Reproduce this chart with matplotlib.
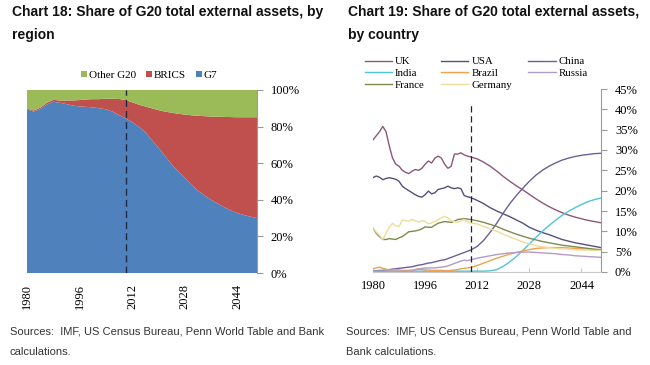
import matplotlib.pyplot as plt
from matplotlib.ticker import FuncFormatter

# Chart 18: share of G20 total external assets by region (%)
years_l = list(range(1980, 2051, 2))
g7 = [89.4, 88.2, 89.5, 92.0, 93.6, 93.0, 92.3, 91.5, 91.0, 90.8, 90.5, 90.0,
      89.5, 88.2, 86.3, 84.5, 82.5, 80.0, 77.0, 72.7, 68.5, 64.0, 59.5, 55.5,
      52.0, 48.3, 45.0, 42.5, 40.0, 38.0, 36.0, 34.2, 32.8, 31.7, 30.8, 30.0]
brics = [0.5, 0.6, 0.8, 1.0, 1.0, 1.3, 2.0, 2.8, 3.5, 4.0, 4.5, 5.0,
         5.8, 7.0, 8.8, 10.0, 10.8, 12.0, 14.0, 17.3, 20.5, 24.2, 28.1, 31.5,
         34.6, 37.9, 40.9, 43.2, 45.5, 47.4, 49.3, 51.0, 52.3, 53.4, 54.3, 55.1]
other_g20 = [10.1, 11.2, 9.7, 7.0, 5.4, 5.7, 5.7, 5.7, 5.5, 5.2, 5.0, 5.0,
             4.7, 4.8, 4.9, 5.5, 6.7, 8.0, 9.0, 10.0, 11.0, 11.8, 12.4, 13.0,
             13.4, 13.8, 14.1, 14.3, 14.5, 14.6, 14.7, 14.8, 14.9, 14.9, 14.9, 14.9]

# Chart 19: share by country (%)
years_r = list(range(1980, 2011)) + list(range(2012, 2051, 2))
uk = [32.5, 33.5, 34.5, 35.8, 34.5, 31.0, 28.0, 26.5, 26.0, 25.0, 24.5, 24.2, 24.8,
      25.2, 25.0, 25.5, 26.5, 27.3, 26.8, 28.0, 28.5, 28.0, 26.5, 25.5, 26.0, 29.0,
      29.0, 29.3, 28.8, 28.5, 28.3,
      27.8, 27.0, 26.0, 24.8, 23.5, 22.3, 21.2, 20.2, 19.1, 18.0, 17.0, 16.1, 15.3,
      14.6, 14.0, 13.5, 13.1, 12.7, 12.4, 12.1]
usa = [23.2, 23.6, 23.3, 22.7, 23.0, 23.2, 23.0, 22.8, 22.3, 21.1, 20.5, 20.0, 19.5,
       19.0, 18.6, 18.4, 19.0, 19.9, 19.2, 19.5, 20.3, 20.5, 20.7, 21.1, 20.7, 20.5,
       20.7, 20.5, 18.8, 18.5, 18.3,
       17.6, 16.8, 15.8, 15.0, 14.3, 13.6, 12.8, 12.0, 11.0, 10.3, 9.7, 9.2, 8.6,
       8.0, 7.6, 7.2, 6.9, 6.6, 6.3, 6.0]
china = [0.3, 0.3, 0.4, 0.4, 0.5, 0.6, 0.7, 0.8, 0.9, 1.0, 1.1, 1.2, 1.3, 1.5, 1.7,
         1.8, 2.0, 2.2, 2.3, 2.5, 2.7, 2.9, 3.0, 3.3, 3.6, 3.9, 4.2, 4.5, 4.8, 5.1, 5.4,
         6.3, 7.8, 9.8, 12.0, 14.5, 16.8, 18.8, 20.6, 22.3, 23.8, 25.0, 26.0, 26.8,
         27.5, 28.0, 28.4, 28.7, 28.9, 29.1, 29.2]
india = [0.2, 0.2, 0.2, 0.2, 0.2, 0.2, 0.2, 0.2, 0.2, 0.2, 0.2, 0.2, 0.2, 0.2, 0.2,
         0.2, 0.2, 0.2, 0.2, 0.2, 0.2, 0.2, 0.2, 0.2, 0.2, 0.2, 0.2, 0.2, 0.2, 0.2, 0.2,
         0.2, 0.2, 0.3, 0.6, 1.4, 2.5, 3.8, 5.3, 6.9, 8.5, 10.0, 11.4, 12.7, 13.9,
         14.9, 15.8, 16.6, 17.3, 17.8, 18.2]
brazil = [0.8, 1.0, 1.2, 0.9, 0.7, 0.5, 0.5, 0.6, 0.5, 0.4, 0.4, 0.4, 0.5, 0.6, 0.8,
          0.6, 0.5, 0.5, 0.4, 0.4, 0.4, 0.4, 0.3, 0.3, 0.4, 0.5, 0.6, 0.8, 0.9, 1.0, 1.1,
          1.6, 2.2, 2.8, 3.4, 3.9, 4.4, 4.8, 5.2, 5.5, 5.8, 5.9, 6.0, 6.0, 6.0, 5.9,
          5.8, 5.7, 5.6, 5.5, 5.4]
russia = [0.2, 0.2, 0.2, 0.2, 0.2, 0.2, 0.2, 0.2, 0.2, 0.2, 0.2, 0.2, 0.2, 0.5, 0.7,
          0.9, 1.0, 1.0, 1.0, 1.0, 1.1, 1.2, 1.3, 1.5, 1.8, 2.1, 2.4, 2.7, 2.9, 2.8, 3.0,
          3.4, 3.7, 4.0, 4.3, 4.5, 4.7, 4.8, 4.9, 4.9, 4.8, 4.7, 4.6, 4.5, 4.3, 4.2,
          4.0, 3.9, 3.8, 3.7, 3.6]
france = [10.8, 9.5, 8.7, 8.0, 8.0, 8.2, 8.1, 8.0, 8.4, 8.7, 9.3, 9.9, 10.0, 10.1,
          10.3, 10.6, 11.1, 11.0, 11.0, 11.5, 12.0, 12.2, 12.4, 12.3, 12.2, 12.5, 12.9,
          13.0, 13.1, 13.0, 12.9,
          12.6, 12.2, 11.7, 11.2, 10.5, 9.9, 9.3, 8.8, 8.3, 7.9, 7.5, 7.2, 6.9, 6.6,
          6.4, 6.2, 6.0, 5.8, 5.6, 5.5]
germany = [10.8, 9.8, 9.0, 8.0, 9.5, 11.0, 12.0, 11.3, 11.2, 12.8, 12.6, 12.5, 12.9,
           12.6, 12.3, 12.6, 12.5, 11.8, 12.1, 12.4, 12.9, 13.3, 13.7, 13.3, 12.6, 12.4,
           12.2, 12.6, 12.9, 12.4, 12.1,
           11.8, 11.2, 10.6, 10.0, 9.3, 8.6, 8.0, 7.4, 6.9, 6.5, 6.2, 6.0, 5.8, 5.7,
           5.6, 5.5, 5.4, 5.4, 5.3, 5.3]

xticks = [1980, 1996, 2012, 2028, 2044]
serif = "Liberation Serif"
sans = "Liberation Sans"
pct = FuncFormatter(lambda v, _: f"{v:.0f}%")

fig = plt.figure(figsize=(6.5, 3.65), dpi=100)

# ---- left: stacked area
ax1 = fig.add_axes([27 / 650, 1 - 273 / 365, 230 / 650, 183 / 365])
ax1.stackplot(years_l, g7, brics, other_g20,
              colors=["#4F81BD", "#C0504D", "#9BBB59"],
              labels=["G7", "BRICS", "Other G20"], linewidth=0)
ax1.axvline(2010, color="#1F2A44", lw=1.0, ls=(0, (5, 3)))
ax1.set_xlim(1980, 2050)
ax1.set_ylim(0, 100)
ax1.set_yticks(range(0, 101, 20))
ax1.yaxis.set_major_formatter(pct)
ax1.yaxis.tick_right()
ax1.set_xticks(xticks)
ax1.set_xticklabels([str(y) for y in xticks], rotation=90, family=serif, fontsize=9)
for s in ["top", "left", "bottom"]:
    ax1.spines[s].set_visible(False)
ax1.spines["right"].set_color("#9A9A9A")
ax1.tick_params(axis="y", direction="out", length=4, color="#9A9A9A", labelsize=9, pad=6)
ax1.tick_params(axis="x", length=0, pad=8)
for t in ax1.get_yticklabels():
    t.set_family(serif)
h, l = ax1.get_legend_handles_labels()
ax1.legend(h[::-1], l[::-1], loc="lower center", bbox_to_anchor=(0.53, 1.03), ncol=3,
           frameon=False, prop={"family": serif, "size": 8}, handlelength=0.55,
           handleheight=0.55, handletextpad=0.15, columnspacing=0.9, borderaxespad=0)

# ---- right: lines
ax2 = fig.add_axes([373 / 650, 1 - 272 / 365, 228 / 650, 183 / 365])
series = [("UK", uk, "#8B5878"), ("USA", usa, "#55507A"), ("China", china, "#6C5F96"),
          ("India", india, "#4FC4D6"), ("Brazil", brazil, "#EFA24E"),
          ("Russia", russia, "#B49AC8"), ("France", france, "#7E8A4E"),
          ("Germany", germany, "#EEDC9A")]
handles = {}
for name, vals, c in series:
    handles[name] = ax2.plot(years_r, vals, color=c, lw=1.0, label=name)[0]
ax2.axvline(2010, ymax=41.5 / 45, color="#222222", lw=0.9, ls=(0, (5, 3)))
ax2.set_xlim(1980, 2050)
ax2.set_ylim(0, 45)
ax2.set_yticks(range(0, 46, 5))
ax2.yaxis.set_major_formatter(pct)
ax2.yaxis.tick_right()
ax2.set_xticks(xticks)
ax2.set_xticklabels([str(y) for y in xticks], family=serif, fontsize=9)
for s in ["top", "left"]:
    ax2.spines[s].set_visible(False)
ax2.spines["right"].set_color("#9A9A9A")
ax2.spines["bottom"].set_color("#C8C8C8")
ax2.tick_params(axis="y", direction="out", length=4, color="#9A9A9A", labelsize=9, pad=6)
ax2.tick_params(axis="x", direction="in", length=3, color="#C8C8C8", pad=6)
for t in ax2.get_yticklabels():
    t.set_family(serif)
# matplotlib fills legend columns first; order so rows read UK/USA/China, ...
order = ["UK", "India", "France", "USA", "Brazil", "Germany", "China", "Russia"]
ax2.legend([handles[n] for n in order], order, loc="upper left",
           bbox_to_anchor=(-0.055, 1.2), ncol=3, frameon=False,
           prop={"family": serif, "size": 7.8}, handlelength=2.5, handletextpad=0.3,
           columnspacing=1.5, labelspacing=0.22, borderaxespad=0)

# ---- titles and sources
tkw = dict(family=sans, weight="bold", fontsize=10, va="top", color="#111111")
fig.text(12 / 650, 1 - 5 / 365, "Chart 18: Share of G20 total external assets, by", **tkw)
fig.text(12 / 650, 1 - 28 / 365, "region", **tkw)
fig.text(348 / 650, 1 - 5 / 365, "Chart 19: Share of G20 total external assets,", **tkw)
fig.text(348 / 650, 1 - 28 / 365, "by country", **tkw)

skw = dict(family=sans, fontsize=8, va="center", color="#333333")
fig.text(10 / 650, 1 - 331 / 365, "Sources:  IMF, US Census Bureau, Penn World Table and Bank", **skw)
fig.text(10 / 650, 1 - 352 / 365, "calculations.", **skw)
fig.text(346 / 650, 1 - 331 / 365, "Sources:  IMF, US Census Bureau, Penn World Table and", **skw)
fig.text(346 / 650, 1 - 352 / 365, "Bank calculations.", **skw)

fig.savefig("out.png", dpi=100)
